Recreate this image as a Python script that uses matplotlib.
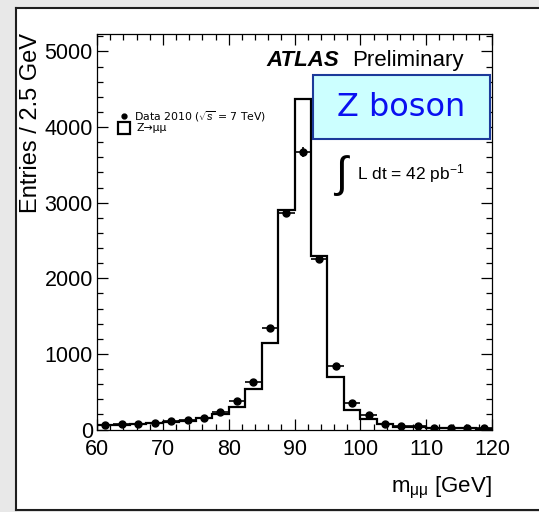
import numpy as np
import matplotlib.pyplot as plt
from matplotlib.patches import Rectangle
from matplotlib.lines import Line2D
from matplotlib.ticker import MultipleLocator

plt.rcParams['font.family'] = ['Liberation Sans', 'DejaVu Sans']
plt.rcParams['mathtext.fontset'] = 'custom'
plt.rcParams['mathtext.rm'] = 'Liberation Sans'
plt.rcParams['mathtext.it'] = 'Liberation Sans:italic'
plt.rcParams['mathtext.bf'] = 'Liberation Sans:bold'

# dimuon mass bins, 2.5 GeV wide
edges = np.arange(60, 120.1, 2.5)
centers = 0.5 * (edges[:-1] + edges[1:])

# Data 2010, entries per bin
data = [60, 77, 68, 86, 117, 121, 157, 231, 373, 624, 1343, 2864,
        3670, 2260, 840, 355, 187, 77, 51, 46, 24, 24, 17, 24]

# Z -> mumu simulation
mc = [55, 65, 75, 85, 100, 118, 155, 203, 302, 532, 1148, 2903,
      4372, 2290, 694, 258, 135, 75, 38, 30, 22, 18, 14, 11]

fig = plt.figure(figsize=(5.39, 5.12), dpi=100, facecolor='white')

# grey slide margins (left, top, bottom) and the panel border
x0, y0, y1 = 16 / 539, 2 / 512, 504 / 512
grey = '#e8e8e8'
for r in [(0, 0, x0, 1), (0, y1, 1, 1 - y1), (0, 0, 1, y0)]:
    fig.add_artist(Rectangle(r[:2], r[2], r[3], transform=fig.transFigure,
                             facecolor=grey, edgecolor='none', zorder=-2))
for xs, ys in [([x0, 1], [y1, y1]), ([x0, x0], [y0, y1]), ([x0, 1], [y0, y0])]:
    fig.add_artist(Line2D(xs, ys, transform=fig.transFigure,
                          color='#1e1e1e', lw=1.5, zorder=-1))

ax = fig.add_axes([97 / 539, 1 - 429.5 / 512, 395 / 539, 395.5 / 512])

ax.stairs(mc, edges, color='black', lw=1.6, baseline=0)
ax.errorbar(centers, data, xerr=1.25, yerr=np.sqrt(data), fmt='o',
            color='black', ms=5, lw=1.2, capsize=0, zorder=3)

ax.set_xlim(60, 120)
ax.set_ylim(0, 5230)
ax.xaxis.set_major_locator(MultipleLocator(10))
ax.xaxis.set_minor_locator(MultipleLocator(2))
ax.yaxis.set_major_locator(MultipleLocator(1000))
ax.yaxis.set_minor_locator(MultipleLocator(200))
ax.tick_params(which='both', direction='in', top=True, right=True,
               width=0.9, labelsize=15.5)
ax.tick_params(which='major', length=8)
ax.tick_params(which='minor', length=4.5)
ax.tick_params(axis='x', pad=6.5)
ax.tick_params(axis='y', pad=3)
for s in ax.spines.values():
    s.set_linewidth(0.9)

ax.set_ylabel('Entries / 2.5 GeV', fontsize=17, loc='top')
ax.yaxis.set_label_coords(-0.14, 1.003)
ax.set_xlabel(r'm$_{\mathrm{\mu\mu}}$ [GeV]', fontsize=16, loc='right')
ax.xaxis.set_label_coords(1.0, -0.115)

# legend
ax.plot([0.068], [0.792], 'o', color='black', ms=3.5, transform=ax.transAxes)
ax.text(0.094, 0.792, r'Data 2010 ($\sqrt{s}$ = 7 TeV)', fontsize=7.8,
        family='DejaVu Sans', va='center', transform=ax.transAxes)
ax.plot([0.068], [0.762], 's', mfc='white', mec='black', mew=1.6, ms=8.5,
        transform=ax.transAxes)
ax.text(0.101, 0.762, 'Z→μμ', fontsize=7.8, family='DejaVu Sans',
        va='center', transform=ax.transAxes)

ax.text(0.43, 0.934, 'ATLAS', fontsize=16, fontweight='bold',
        fontstyle='italic', va='center', transform=ax.transAxes)
ax.text(0.645, 0.934, 'Preliminary', fontsize=16, va='center',
        transform=ax.transAxes)

ax.text(0.62, 0.642, r'$\int$', fontsize=31, va='center', ha='center',
        transform=ax.transAxes)
ax.text(0.658, 0.647, r'L dt = 42 pb$^{\mathrm{-1}}$', fontsize=12.5,
        va='center', transform=ax.transAxes)

# label box
ax.add_patch(Rectangle((0.547, 0.7345), 0.448, 0.1615,
                       transform=ax.transAxes, facecolor='#ccffff',
                       edgecolor='#1c3a9a', lw=1.5, zorder=5))
ax.text(0.771, 0.815, 'Z boson', fontsize=23, color='#0a10f0',
        family='DejaVu Sans', ha='center', va='center',
        transform=ax.transAxes, zorder=6)

fig.savefig('out.png', dpi=100)
